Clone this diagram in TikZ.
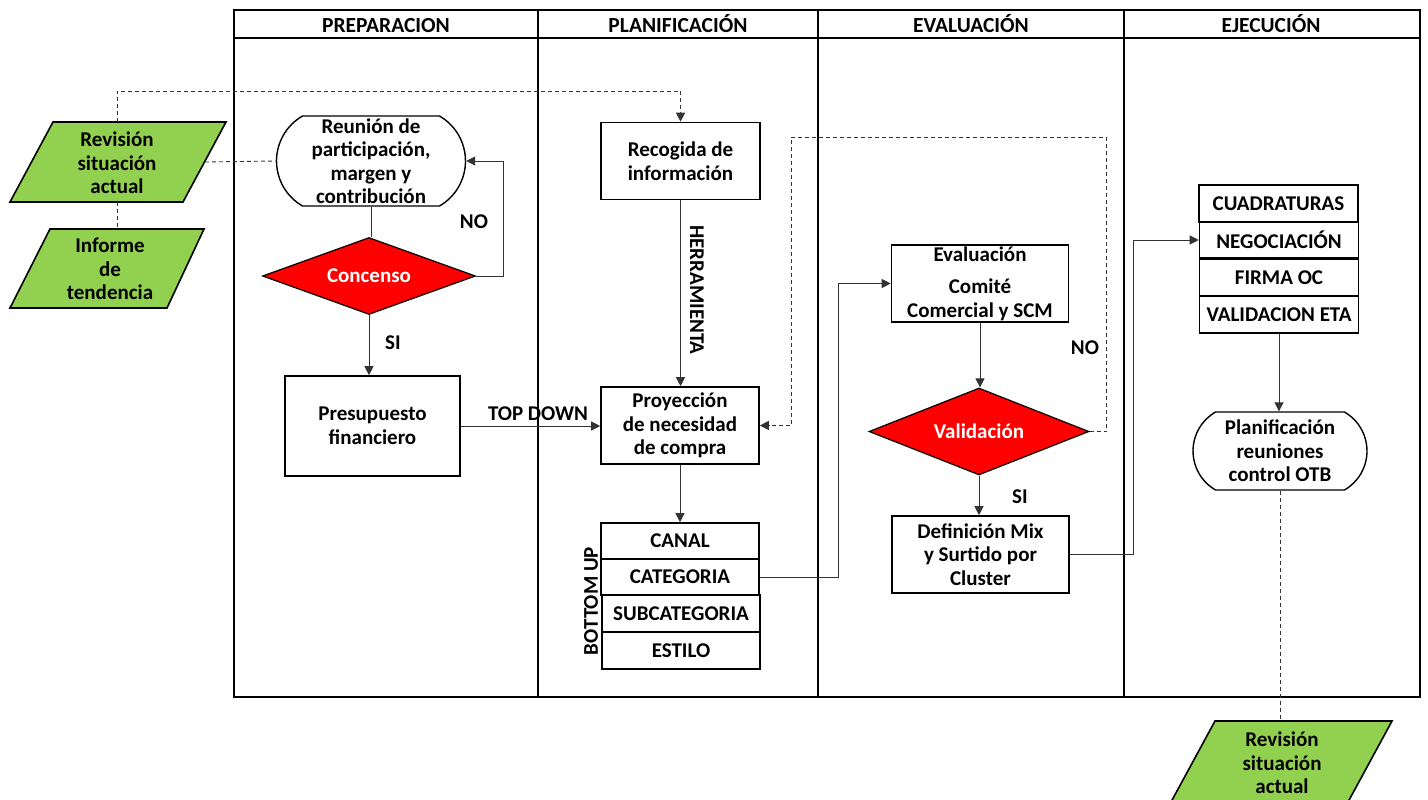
\documentclass[tikz,border=0pt]{standalone}
\usepackage{fontspec}
\setmainfont{Carlito}
\usetikzlibrary{arrows.meta,shapes.geometric,shapes.misc}
\definecolor{lgreen}{HTML}{92D050}
\definecolor{conncol}{HTML}{333333}
\begin{document}
\begin{tikzpicture}[x=1pt,y=-1pt,
  font=\fontsize{21}{23.5}\selectfont\bfseries,
  lane/.style={draw=black,line width=1.8pt},
  box/.style={draw=black,line width=1.6pt,align=center,inner sep=0pt,fill=white},
  term/.style={box,line width=1.4pt,rounded rectangle,rounded rectangle arc length=120},
  dia/.style={shape=diamond,draw=black,line width=1.2pt,fill=red,text=white,inner sep=0pt,aspect=2.8},
  par/.style={draw=black,line width=1.6pt,fill=lgreen},
  ptext/.style={align=center,inner sep=0pt},
  lbl/.style={inner sep=0pt},
  hdr/.style={inner sep=0pt,anchor=base,font=\fontsize{21.5}{24}\selectfont\bfseries},
  conn/.style={draw=conncol,line width=1pt},
  arr/.style={-{Triangle[length=9pt,width=9pt]}},
  dsh/.style={draw=conncol,line width=0.9pt,dash pattern=on 4pt off 3pt},
]
\useasboundingbox (0,0) rectangle (1428,800);

% swimlane table
\draw[lane] (234,10) rectangle (1420,697);
\draw[draw=black,line width=1.2pt] (234,38) -- (1420,38);
\draw[lane] (538,10) -- (538,697);
\draw[lane] (818,10) -- (818,697);
\draw[lane] (1124,10) -- (1124,697);
\node[hdr] (h1) at (386,33) {PREPARACION};
\node[hdr] (h2) at (678,33) {PLANIFICACIÓN};
\node[hdr] (h3) at (971,33) {EVALUACIÓN};
\node[hdr] (h4) at (1271,33) {EJECUCIÓN};

% left parallelograms
\draw[par] (53,122) -- (226,122) -- (183,202) -- (10,202) -- cycle;
\node[ptext] (rev1) at (117,163) {Revisión\\situación\\actual};
\draw[par] (50,229) -- (204,229) -- (167,308) -- (10,308) -- cycle;
\node[ptext] (inf) at (110,269) {Informe\\de\\tendencia};
\coordinate (rev1top) at (117,122);
\coordinate (rev1bot) at (117,202);
\coordinate (rev1right) at (205,162);
\coordinate (inftop) at (117,229);

% bottom-right parallelogram
\draw[par] (1215,721) -- (1392,721) -- (1348,802) -- (1171,802) -- cycle;
\node[ptext] (rev3) at (1282,763) {Revisión\\situación\\actual};
\coordinate (rev3top) at (1281,721);

% PREPARACION
\node[term,minimum width=189,minimum height=90] (reu) at (371,161) {Reunión de\\participación,\\margen y\\contribución};
\node[dia,minimum width=213,minimum height=77] (con) at (369,276) {Concenso};
\node[box,minimum width=175,minimum height=100] (pre) at (372.5,426) {Presupuesto\\financiero};

% PLANIFICACION
\node[box,minimum width=159,minimum height=77] (rec) at (680.5,161) {Recogida de\\información};
\node[box,minimum width=158,minimum height=77] (pro) at (680,425.5) {Proyección\\de necesidad\\de compra};
\node[box,minimum width=158,minimum height=36] (canal) at (680,541) {CANAL};
\node[box,minimum width=158,minimum height=36] (cat) at (680,577) {CATEGORIA};
\node[box,minimum width=158,minimum height=37] (sub) at (681,613.5) {SUBCATEGORIA};
\node[box,minimum width=158,minimum height=37] (est) at (681,650.5) {ESTILO};
\node[lbl,rotate=90] (bu) at (591,601) {BOTTOM UP};
\node[lbl,rotate=-90] (her) at (697,290) {HERRAMIENTA};
\node[lbl] (td) at (538,414) {TOP DOWN};

% EVALUACION
\node[box,minimum width=177,minimum height=77] (eval) at (980,283.5) {Evaluación\\[9pt]Comité\\Comercial y SCM};
\node[dia,minimum width=220,minimum height=87] (val) at (979,431.5) {Validación};
\node[box,minimum width=177,minimum height=77] (def) at (980.5,554.5) {Definición Mix\\y Surtido por\\Cluster};

% EJECUCION
\node[box,minimum width=159,minimum height=37] (cua) at (1278.5,203.5) {CUADRATURAS};
\node[box,minimum width=159,minimum height=36] (neg) at (1279,240) {NEGOCIACIÓN};
\node[box,minimum width=159,minimum height=37] (fir) at (1279,277.5) {FIRMA OC};
\node[box,minimum width=159,minimum height=37] (vet) at (1279,314.5) {VALIDACION ETA};
\node[term,minimum width=174,minimum height=78] (plan) at (1280,451) {Planificación\\reuniones\\control OTB};

% labels
\node[lbl] (no1) at (474,222) {NO};
\node[lbl] (si1) at (393,343) {SI};
\node[lbl] (no2) at (1085,348) {NO};
\node[lbl] (si2) at (1020,497) {SI};

% connectors
\draw[dsh,arr] (rev1top) -- (117,91) -| (rec.north);
\draw[dsh] (rev1right) -- (reu.west);
\draw[dsh] (rev1bot) -- (inftop);
\draw[conn] (reu.south) -- (reu.south |- con.north);
\draw[conn,arr] (con.east) -- ++(27,0) |- (reu.east);
\draw[conn,arr] (con.south) -- (con.south |- pre.north);
\draw[conn,arr] (pre.east) -- (pre.east -| pro.west);
\draw[conn,arr] (rec.south) -- (rec.south |- pro.north);
\draw[conn,arr] (pro.south) -- (pro.south |- canal.north);
\draw[conn,arr] (cat.east) -- ++(79,0) |- (eval.west);
\draw[conn,arr] (eval.south) -- (eval.south |- val.north);
\draw[dsh,arr] (val.east) -- ++(17,0) |- (791,137) |- (pro.east);
\draw[conn,arr] (val.south) -- (val.south |- def.north);
\draw[conn,arr] (def.east) -- ++(64,0) |- (neg.west);
\draw[conn,arr] (vet.south) -- (vet.south |- plan.north);
\draw[dsh] (plan.south) -- (plan.south |- rev3top);
\end{tikzpicture}
\end{document}
